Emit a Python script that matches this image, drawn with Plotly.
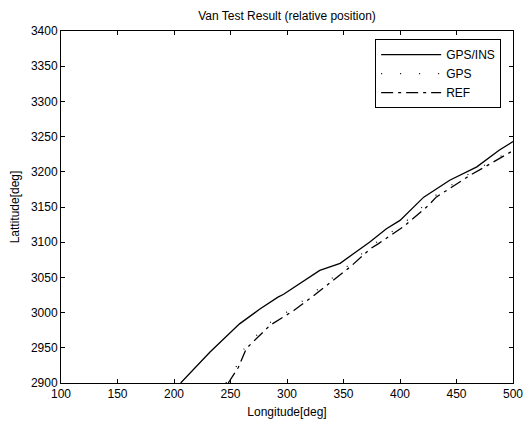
import plotly.graph_objects as go

# Van test trajectory, longitude vs latitude (relative position)
ins_lon = [205.9, 231.9, 258.0, 276.0, 292.0, 297.0, 329.0, 347.0, 373.0, 382.0,
           388.0, 400.0, 421.0, 444.0, 468.0, 488.0, 500.0]
ins_lat = [2900, 2944, 2984, 3005, 3022, 3026, 3060, 3070, 3100, 3112,
           3119, 3131, 3164, 3188, 3207, 3231, 3243]

gps_lon = [246.0, 256.0, 263.0, 284.0, 305.0, 325.0, 355.0, 373.0, 402.0, 431.0,
           461.0, 490.0, 500.0]
gps_lat = [2900, 2926, 2952, 2985, 3006, 3030, 3068, 3093, 3125, 3166,
           3197, 3223, 3232]

ref_lon = [248.0, 256.9, 264.0, 285.0, 306.0, 326.0, 356.0, 374.0, 381.0, 403.0,
           425.0, 432.0, 462.0, 491.0, 500.0]
ref_lat = [2900, 2922, 2949, 2982, 3003, 3027, 3065, 3091, 3098, 3122,
           3152, 3164, 3195, 3221, 3230]

x_ticks = list(range(100, 501, 50))
y_ticks = list(range(2900, 3401, 50))

FONT = "Liberation Sans, Arial, sans-serif"

fig = go.Figure()
fig.add_trace(go.Scatter(x=ins_lon, y=ins_lat, mode="lines", name="GPS/INS",
                         line=dict(color="black", width=1.3)))
fig.add_trace(go.Scatter(x=gps_lon, y=gps_lat, mode="lines", name="GPS",
                         line=dict(color="black", width=1.2, dash="1px,18px")))
fig.add_trace(go.Scatter(x=ref_lon, y=ref_lat, mode="lines", name="REF",
                         line=dict(color="black", width=1.3, dash="12px,5px,3px,5px")))

axis_common = dict(
    showgrid=False, zeroline=False, showline=True, linecolor="black", linewidth=1,
    mirror="ticks", ticks="inside", ticklen=4, tickcolor="black",
    tickfont=dict(family=FONT, size=12, color="black"), automargin=False,
)

fig.update_layout(
    width=529, height=425,
    margin=dict(l=61, r=16, t=31, b=42),
    paper_bgcolor="white", plot_bgcolor="white",
    title=dict(text="Van Test Result (relative position)", x=0.5425, xanchor="center",
               y=0.962, yanchor="middle",
               font=dict(family=FONT, size=12, color="black")),
    xaxis=dict(range=[100, 500], tickvals=x_ticks,
               title=dict(text="Longitude[deg]", standoff=7,
                          font=dict(family=FONT, size=12, color="black")),
               **axis_common),
    yaxis=dict(range=[2900, 3400], tickvals=y_ticks,
               title=dict(text="Lattitude[deg]", standoff=8,
                          font=dict(family=FONT, size=12, color="black")),
               **axis_common),
    legend=dict(x=0.695, y=0.977, xanchor="left", yanchor="top",
                bgcolor="white", bordercolor="black", borderwidth=1,
                font=dict(family=FONT, size=12, color="black"),
                itemwidth=60, tracegroupgap=0),
    showlegend=True,
)

fig.write_html("out.html")
